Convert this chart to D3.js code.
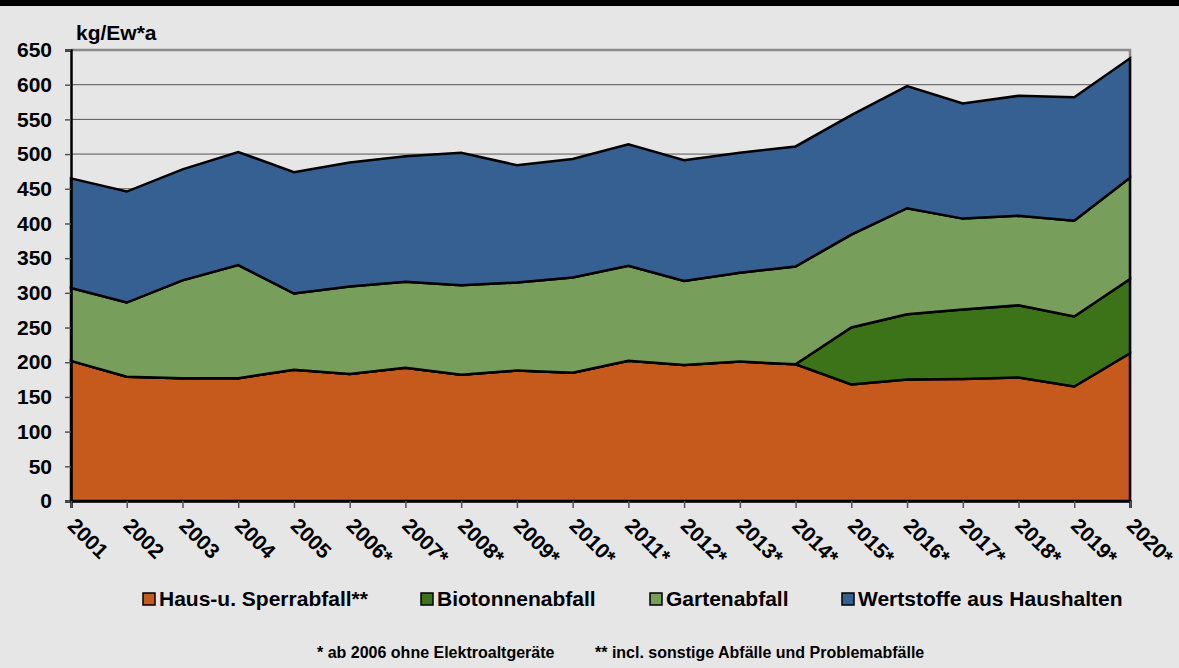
<!DOCTYPE html>
<html>
<head>
<meta charset="utf-8">
<script src="https://cdn.jsdelivr.net/npm/d3@7"></script>
<style>
  html, body { margin: 0; padding: 0; background: #e6e6e6; }
  svg { display: block; }
  text { font-family: "Liberation Sans", Arial, sans-serif; font-weight: bold; fill: #000; }
</style>
</head>
<body>
<svg id="chart" width="1179" height="668"></svg>
<script>
const years = ["2001","2002","2003","2004","2005","2006*","2007*","2008*","2009*","2010*","2011*","2012*","2013*","2014*","2015*","2016*","2017*","2018*","2019*","2020*"];
const hausSperr = [202,179,177,177,189,183,192,182,188,185,202,196,201,197,168,175,176,178,165,213];
const bioTonne  = [0,0,0,0,0,0,0,0,0,0,0,0,0,0,82,94,100,104,101,107];
const garten    = [105,107,141,163,110,126,124,129,127,137,137,121,128,141,134,153,131,129,138,146];
const wertstoffe= [158,160,160,163,175,179,181,191,169,171,175,174,173,173,172,176,166,173,178,172];
const seriesNames = ["Haus-u. Sperrabfall**","Biotonnenabfall","Gartenabfall","Wertstoffe aus Haushalten"];
const seriesColors = ["#c55a1c","#3c7318","#789e5c","#376092"];
const yTicks = [0,50,100,150,200,250,300,350,400,450,500,550,600,650];
const unitLabel = "kg/Ew*a";
const footnotes = ["* ab 2006 ohne Elektroaltgeräte", "** incl. sonstige Abfälle und Problemabfälle"];

const svg = d3.select("#chart");
const W = 1179, H = 668;
svg.append("rect").attr("x",0).attr("y",0).attr("width",W).attr("height",H).attr("fill","#e6e6e6");
svg.append("rect").attr("x",0).attr("y",0).attr("width",W).attr("height",6).attr("fill","#000");

const x = d3.scalePoint().domain(years).range([71,1130]);
const y = d3.scaleLinear().domain([0,650]).range([501,50]);

const data = years.map((yr,i)=>({year:yr, s0:hausSperr[i], s1:bioTonne[i], s2:garten[i], s3:wertstoffe[i]}));
const keys = ["s0","s1","s2","s3"];
const stacked = d3.stack().keys(keys)(data);

// gridlines
svg.append("g").selectAll("line").data(yTicks.filter(v=>v>0 && v<650)).join("line")
  .attr("x1",71).attr("x2",1130).attr("y1",d=>y(d)).attr("y2",d=>y(d))
  .attr("stroke","#555").attr("stroke-width",1);

// plot border top/right
svg.append("path").attr("d",`M71,${y(650)}H1130V${y(0)}`).attr("fill","none").attr("stroke","#8a8a8a").attr("stroke-width",2.5);

// areas
const area = d3.area().x(d=>x(d.data.year)).y0(d=>y(d[0])).y1(d=>y(d[1]));
svg.append("g").selectAll("path").data(stacked).join("path")
  .attr("d",area).attr("fill",(d,i)=>seriesColors[i])
  .attr("stroke","#000").attr("stroke-width",2.5).attr("stroke-linejoin","miter");

// y axis
const yAxis = d3.axisLeft(y).tickValues(yTicks).tickSize(6).tickPadding(13);
const gy = svg.append("g").attr("transform","translate(71,0)").call(yAxis);
gy.select(".domain").attr("stroke","#000").attr("stroke-width",2.5);
gy.selectAll(".tick line").attr("stroke","#555").attr("stroke-width",1.5);
gy.selectAll(".tick text").style("font-size","21px").style("font-family","'Liberation Sans', Arial, sans-serif").style("font-weight","bold").attr("fill","#000");

// x axis
const xAxis = d3.axisBottom(x).tickSize(7).tickFormat(d=>d);
const gx = svg.append("g").attr("transform","translate(0,501)").call(xAxis);
gx.select(".domain").attr("stroke","#000").attr("stroke-width",2.5);
gx.selectAll(".tick line").attr("stroke","#555").attr("stroke-width",1.5);
gx.selectAll(".tick text")
  .style("font-size","21px").style("font-family","'Liberation Sans', Arial, sans-serif").style("font-weight","bold").attr("fill","#000")
  .attr("text-anchor","start").attr("y",0).attr("dy",0)
  .attr("transform","translate(-5,26) rotate(45)");

// unit label
svg.append("text").attr("x",76).attr("y",40).style("font-size","21px").text(unitLabel);

// legend
const legendX = [143,421,650,842];
const lg = svg.append("g");
seriesNames.forEach((name,i)=>{
  lg.append("rect").attr("x",legendX[i]).attr("y",593).attr("width",12).attr("height",12)
    .attr("fill",seriesColors[i]).attr("stroke","#000").attr("stroke-width",1.5);
  lg.append("text").attr("x",legendX[i]+16).attr("y",606).style("font-size","21px").text(name);
});

// footnotes
svg.append("text").attr("x",317).attr("y",658).style("font-size","16px").text(footnotes[0]);
svg.append("text").attr("x",595).attr("y",658).style("font-size","16px").text(footnotes[1]);
</script>
</body>
</html>
